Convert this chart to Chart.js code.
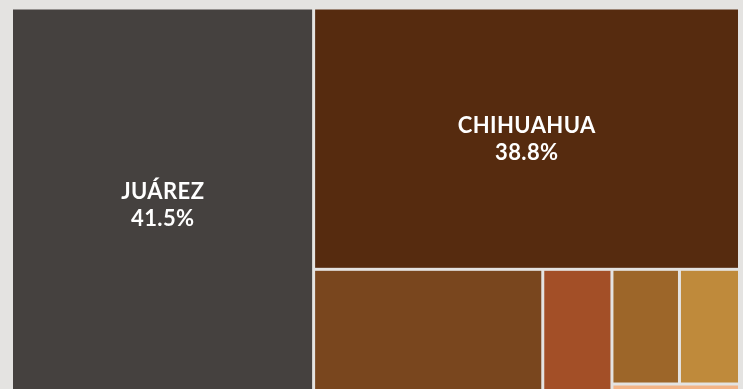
<!DOCTYPE html>
<html lang="es">
<head>
<meta charset="utf-8">
<script src="https://cdn.jsdelivr.net/npm/chart.js@4/dist/chart.umd.min.js"></script>
<style>
  html, body { margin: 0; padding: 0; background: #e4e3e1; overflow: hidden; width: 743px; height: 389px; }
  #wrap { position: absolute; left: 0; top: 0; width: 743px; height: 410px; }
</style>
</head>
<body>
<div id="wrap"><canvas id="treemap" width="743" height="410"></canvas></div>
<script>
// Participación por municipio (%)
const municipios = ['Juárez', 'Chihuahua', 'Cuauhtémoc', 'Delicias', 'Hidalgo del Parral', 'Nuevo Casas Grandes', 'Resto del estado'];
const participacion = [41.5, 38.8, 10.6, 3.2, 2.7, 2.4, 0.8];
const colores = ['#45413f', '#562b0f', '#79461e', '#a34f27', '#9d6629', '#bf8a3b', '#f3b486'];
const umbralEtiqueta = 20; // only cells above this share get a label

// worst aspect ratio of a strip laid along `side`
function peorProporcion(fila, side, escala) {
  const suma = fila.reduce((a, b) => a + b, 0);
  const grosor = suma * escala / side;
  let peor = 0;
  for (const v of fila) {
    const largo = v * escala / grosor;
    peor = Math.max(peor, largo / grosor, grosor / largo);
  }
  return peor;
}

// squarified layout in pixel-proportional units
function squarify(valores, x, y, w, h) {
  const rects = [];
  let resto = valores.reduce((a, b) => a + b, 0);
  let i = 0;
  while (i < valores.length) {
    const banda = w < h * 1.15;          // horizontal band across the width
    const side = banda ? w : h;
    const escala = (w * h) / resto;
    let fila = [valores[i]];
    let mejor = peorProporcion(fila, side, escala);
    let j = i + 1;
    while (j < valores.length) {
      const prueba = fila.concat(valores[j]);
      const r = peorProporcion(prueba, side, escala);
      if (r > mejor) break;
      fila = prueba; mejor = r; j++;
    }
    const sumaFila = fila.reduce((a, b) => a + b, 0);
    const grosor = sumaFila * escala / side;
    let off = 0;
    fila.forEach((v, k) => {
      const largo = v * escala / grosor;
      rects.push(banda
        ? { i: i + k, x: x + off, y: y, w: largo, h: grosor }
        : { i: i + k, x: x, y: y + off, w: grosor, h: largo });
      off += largo;
    });
    if (banda) { y += grosor; h -= grosor; } else { x += grosor; w -= grosor; }
    resto -= sumaFila;
    i = j;
  }
  return rects;
}

const treemapPlugin = {
  id: 'treemapCells',
  afterDatasetsDraw(chart) {
    const ds = chart.data.datasets[0];
    const area = chart.chartArea;
    const sx = chart.scales.x, sy = chart.scales.y;
    const W = area.right - area.left, H = area.bottom - area.top;
    // layout in the plot's proportions, expressed in scale units (0–100)
    const celdas = squarify(ds.valores, 0, 0, W, H).map(r => ({
      i: r.i,
      x0: r.x / W * 100, x1: (r.x + r.w) / W * 100,
      y0: r.y / H * 100, y1: (r.y + r.h) / H * 100
    }));
    const ctx = chart.ctx;
    const gap = 1.5;
    ctx.save();
    celdas.forEach(c => {
      const px0 = sx.getPixelForValue(c.x0) + gap;
      const px1 = sx.getPixelForValue(c.x1) - gap;
      const py0 = sy.getPixelForValue(c.y0) + gap;
      const py1 = sy.getPixelForValue(c.y1) - gap;
      ctx.fillStyle = ds.backgroundColor[c.i];
      ctx.fillRect(px0, py0, px1 - px0, py1 - py0);
      const v = ds.valores[c.i];
      if (v > umbralEtiqueta) {
        const cx = (px0 + px1) / 2, cy = (py0 + py1) / 2;
        ctx.fillStyle = '#ffffff';
        ctx.font = '700 22px Lato, "Open Sans", sans-serif';
        ctx.letterSpacing = '0.4px';
        ctx.textAlign = 'center';
        ctx.textBaseline = 'middle';
        ctx.fillText(ds.nombres[c.i].toUpperCase(), cx + 0.2, cy - 13);
        ctx.fillText(v.toFixed(1) + '%', cx + 0.2, cy + 14);
      }
    });
    ctx.restore();
  }
};

new Chart(document.getElementById('treemap'), {
  type: 'scatter',
  data: {
    datasets: [{
      data: [],
      valores: participacion,
      nombres: municipios,
      backgroundColor: colores
    }]
  },
  options: {
    responsive: false,
    animation: false,
    devicePixelRatio: 1,
    layout: { padding: { left: 11.5, top: 8, right: 3.5, bottom: 8 } },
    plugins: { legend: { display: false }, tooltip: { enabled: false } },
    scales: {
      x: { type: 'linear', min: 0, max: 100, display: false },
      y: { type: 'linear', min: 0, max: 100, reverse: true, display: false }
    }
  },
  plugins: [treemapPlugin]
});
</script>
</body>
</html>
